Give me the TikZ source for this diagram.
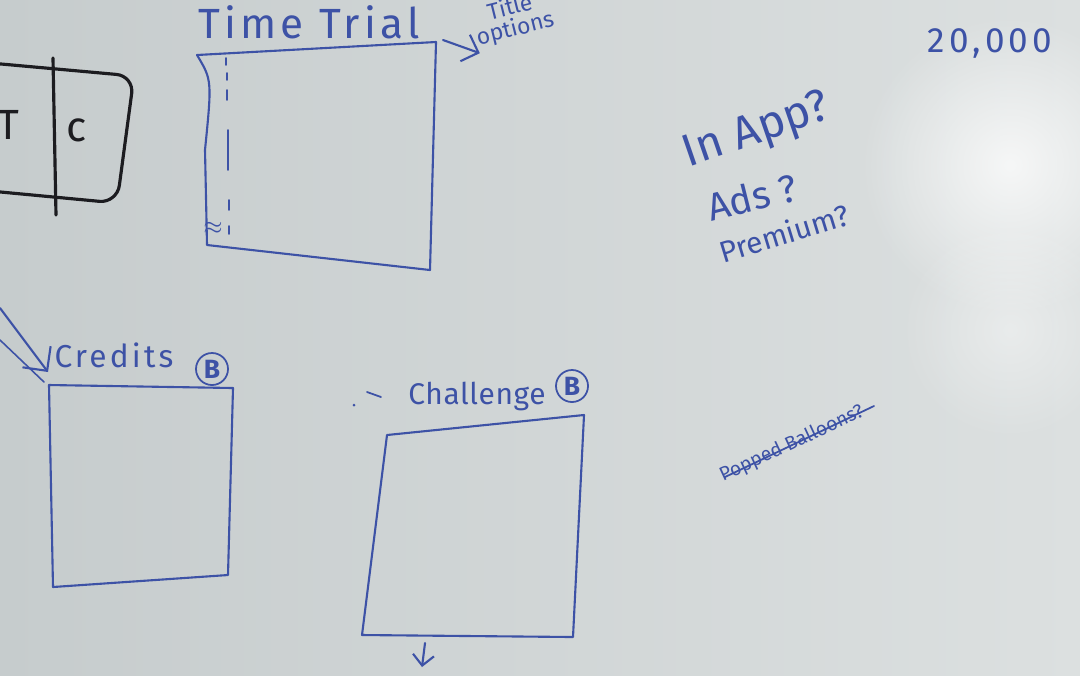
\documentclass[tikz,border=0pt]{standalone}
\usepackage{fontspec}
\setmainfont{Fira Sans}
\usetikzlibrary{positioning, arrows.meta, fadings}
\definecolor{boardL}{HTML}{C6CCCD}
\definecolor{boardR}{HTML}{DCE0E0}
\definecolor{marker}{HTML}{3D52A6}
\definecolor{blackmarker}{HTML}{1C1C20}
\tikzfading[name=glare, inner color=transparent!0, outer color=transparent!100]

\begin{document}
\begin{tikzpicture}[x=0.01cm, y=-0.01cm,
    ink/.style = {draw=marker, line width=0.6pt, line join=round, line cap=round},
    blackink/.style = {draw=blackmarker, line width=0.9pt, line cap=round},
    word/.style = {text=marker, inner sep=1pt, font=\fontsize{9}{11}\selectfont\addfontfeatures{LetterSpace=10}},
    note/.style = {text=marker, inner sep=0pt, font=\fontsize{6.5}{7}\selectfont},
    badge/.style = {draw=marker, circle, line width=0.5pt, text=marker, inner sep=0.5pt,
                    minimum size=0.32cm, font=\fontsize{7.5}{8}\selectfont\bfseries}]
\useasboundingbox (0,0) rectangle (1080,675);
\clip (0,0) rectangle (1080,675);

% board
\shade[left color=boardL, right color=boardR] (0,0) rectangle (1080,675);
\fill[white, path fading=glare, opacity=0.75] (1010,165) circle (150);
\fill[white, path fading=glare, opacity=0.4] (1010,330) circle (110);

% menu box  T | C
\draw[blackink, rounded corners=5pt] (-10,63) -- (134,76) -- (117,203) -- (-10,191);
\draw[blackink] (53,58) -- (56,215);
\node[text=blackmarker, font=\fontsize{12}{14}\selectfont] (menuT) at (8,125) {T};
\node[text=blackmarker, font=\fontsize{12}{14}\selectfont] (menuC) at (77,130) {c};

% time trial screen
\coordinate (ttNW) at (197,55);
\coordinate (ttNE) at (436,42);
\coordinate (ttSE) at (430,270);
\coordinate (ttSW) at (207,245);
\draw[ink] (ttNW) .. controls (212,80) .. (205,150) -- (ttSW) -- (ttSE) -- (ttNE) -- cycle;
\draw[ink, line width=0.5pt] (226,58) -- (226,65) (227,73) -- (227,80) (227,90) -- (227,100)
    (228,130) -- (228,170) (229,200) -- (229,210) (229,226) -- (229,234);
\node[text=marker, font=\fontsize{6}{7}\selectfont] (ttmark) at (213,228) {$\approx$};
\node[word, font=\fontsize{12}{14}\selectfont\addfontfeatures{LetterSpace=10}] (timetrial) at (309,22) {Time Trial};
\node[note, rotate=14] (ttopts) at (513,20) {\begin{tabular}{@{}c@{}}Title\\[-1pt]options\end{tabular}};
\draw[ink, -{Straight Barb[length=4pt]}] (443,40) -- (ttopts.south west);

% credits screen
\coordinate (crNW) at (49,385);
\coordinate (crNE) at (233,388);
\coordinate (crSE) at (228,575);
\coordinate (crSW) at (53,587);
\draw[ink] (crNW) -- (crNE) -- (crSE) -- (crSW) -- cycle;
\node[word] (credits) at (114,355) {Credits};
\node[badge] (crB) at (212,369) {B};
\coordinate (crFrom1) at (0,308);
\coordinate (crFrom2) at (0,340);
\draw[ink, -{Straight Barb[length=5pt]}] (crFrom1) -- (48,372);
\draw[ink, line width=0.45pt] (crFrom2) -- (44,382);

% challenge screen
\coordinate (chNW) at (387,435);
\coordinate (chNE) at (584,415);
\coordinate (chSE) at (573,637);
\coordinate (chSW) at (362,635);
\draw[ink] (chNW) -- (chNE) -- (chSE) -- (chSW) -- cycle;
\node[word, font=\fontsize{8.5}{10}\selectfont\addfontfeatures{LetterSpace=2}] (challenge) at (477,396) {Challenge};
\node[badge] (chB) at (572,386) {B};
\draw[ink, line width=0.5pt] (367,392) -- (381,397);
\fill[marker] (354,405) circle (1.5);
\draw[ink, -{Straight Barb[length=3pt]}] (425,643) -- (422,667);

% money questions
\node[word, font=\fontsize{13}{15}\selectfont, rotate=19] (inapp) at (757,132) {In App?};
\node[word, font=\fontsize{11}{13}\selectfont, rotate=14] (ads) at (752,197) {Ads ?};
\node[word, font=\fontsize{8.5}{10}\selectfont, rotate=17] (premium) at (784,233) {Premium?};
\node[word, font=\fontsize{10}{12}\selectfont\addfontfeatures{LetterSpace=12}] (goal) at (990,43) {20,000};
\node[note, font=\fontsize{5.5}{6}\selectfont, rotate=25] (popped) at (792,444) {Popped Balloons?};
\coordinate (strikeA) at (725,477);
\coordinate (strikeB) at (874,406);
\draw[ink, line width=0.5pt] (strikeA) -- (strikeB);
\end{tikzpicture}
\end{document}
